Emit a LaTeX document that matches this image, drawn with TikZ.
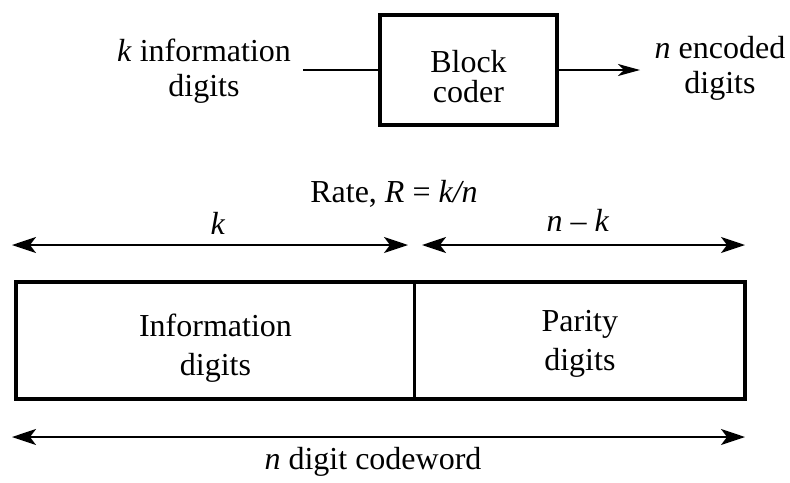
\documentclass[tikz,border=0pt]{standalone}
\usepackage{fontspec}
\setmainfont{Liberation Serif}
\usetikzlibrary{arrows.meta, positioning}
\tikzstyle{dimarrow} = [line width=1pt,{Stealth[length=12pt,width=8pt,inset=3pt]}-{Stealth[length=12pt,width=8pt,inset=3pt]}]
\tikzstyle{sigarrow} = [line width=0.7pt,-{Stealth[length=11pt,width=6pt,inset=3pt]}]

\begin{document}
\begin{tikzpicture}
        [
            x=0.5pt,y=-0.5pt,
            coderbox/.style={rectangle,draw=black,line width=2pt,minimum width=88.5pt,minimum height=55pt,align=center,text height=33pt,font=\fontsize{16}{15}\selectfont},
            cell/.style={rectangle,draw=black,line width=0.7pt,minimum height=57.5pt,align=center,inner sep=0pt,font=\fontsize{16}{19.5}\selectfont},
            lbl/.style={inner sep=0pt,align=center,font=\fontsize{16}{17.5}\selectfont},
        ]
    \useasboundingbox (0,0) rectangle (790,482);

    % block coder with input and output
    \node[coderbox] (coder) at (468.5,70) {Block\\coder};
    \node[lbl] (inlbl) at (204,71) {\textit{k} information\\digits};
    \node[lbl] (outlbl) at (720,68) {\textit{n} encoded\\digits};
    \coordinate (src) at (303,70);
    \coordinate (snk) at (640,70);
    \draw[line width=0.7pt] (src) -- (coder.west);
    \draw[sigarrow] (coder.east) -- (snk);

    \node[lbl] (rate) at (394,194) {Rate, \textit{R} = \textit{k/n}};

    % codeword
    \node[cell,minimum width=198.5pt,text height=38pt] (info) at (215.5,340.5) {Information\\digits};
    \node[cell,minimum width=164.5pt,text height=33pt,anchor=west] (parity) at (info.east) {Parity\\digits};
    \draw[line width=2pt] (info.north west) rectangle (parity.south east);

    % lengths
    \coordinate (k0) at (12,245);
    \coordinate (k1) at (408,245);
    \coordinate (nk0) at (422,245);
    \coordinate (nk1) at (745,245);
    \coordinate (n0) at (12,437);
    \coordinate (n1) at (745,437);
    \draw[dimarrow] (k0) -- (k1);
    \draw[dimarrow] (nk0) -- (nk1);
    \draw[dimarrow] (n0) -- (n1);
    \node[lbl] (klbl) at (218,223) {\textit{k}};
    \node[lbl] (nklbl) at (578,220) {\textit{n} – \textit{k}};
    \node[lbl] (nlbl) at (373,462) {\textit{n} digit codeword};
    \end{tikzpicture}
\end{document}
